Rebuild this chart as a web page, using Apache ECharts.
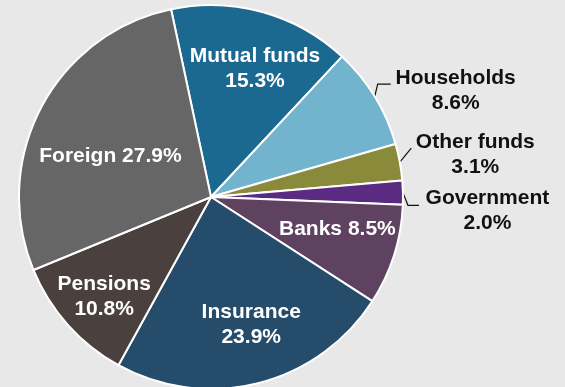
<!DOCTYPE html>
<html><head><meta charset="utf-8">
<script src="https://cdn.jsdelivr.net/npm/echarts@6/dist/echarts.min.js"></script>
<style>html,body{margin:0;padding:0;background:#e8e8e8;} #c{width:565px;height:387px;}</style>
</head><body><div id="c"></div>
<script>
const categories = ['Mutual funds','Households','Other funds','Government','Banks','Insurance','Pensions','Foreign'];
const shares = [15.3, 8.6, 3.1, 2.0, 8.5, 23.9, 10.8, 27.9];
const colors = ['#1b6891','#72b3cd','#8a8a3b','#5b2b84','#5f4260','#254c6a','#4a403e','#666666'];
const outsideLabel = [false,true,true,true,false,false,false,false];
const singleLine = [false,false,false,false,true,false,false,true];
// label placement (style only): shift of text centre from default anchor, leader line bends
const labelShift = [[17.5,-32.5],[81,-5.5],[75.5,-7],[84.5,18.5],[32,2],[16,32],[-33,33.5],[-13,5]];
const leaderBends = [null, [[3,-12.5],[16,-12.5]], [[11.5,-14]], [[5,12.7],[16,12.7]], null, null, null, null];

const font = {fontFamily:'"Liberation Sans", Arial, sans-serif', fontWeight:'bold', fontSize:21, lineHeight:25};

const data = categories.map((name, i) => ({
  name: name,
  value: shares[i],
  itemStyle: {color: colors[i]},
  label: outsideLabel[i]
    ? Object.assign({show:true, position:'outside', color:'#111', align:'center'}, font)
    : Object.assign({show:true, position:'inside', color:'#fff', align:'center'}, font),
  labelLine: outsideLabel[i]
    ? {show:true, length:8, length2:8, lineStyle:{color:'#111', width:1.2}}
    : {show:false}
}));

const chart = echarts.init(document.getElementById('c'), null, {renderer:'canvas'});
chart.setOption({
  backgroundColor:'#e8e8e8',
  animation:false,
  series:[{
    type:'pie',
    center:[211,197],
    radius:[0,192],
    startAngle:102,
    clockwise:true,
    avoidLabelOverlap:false,
    itemStyle:{borderColor:'#ffffff', borderWidth:2},
    emphasis:{disabled:true},
    label:{
      formatter: p => singleLine[p.dataIndex]
        ? p.name + ' ' + p.value.toFixed(1) + '%'
        : p.name + '\n' + p.value.toFixed(1) + '%'
    },
    labelLayout: function(p){
      const i = p.dataIndex, s = labelShift[i];
      if (outsideLabel[i] && p.labelLinePoints) {
        const a = p.labelLinePoints[0];
        const pts = [[a[0], a[1]]].concat(leaderBends[i].map(d => [a[0]+d[0], a[1]+d[1]]));
        return {x:a[0]+s[0], y:a[1]+s[1], align:'center', verticalAlign:'middle', labelLinePoints:pts};
      }
      const r = p.labelRect;
      return {x:r.x + r.width/2 + s[0], y:r.y + r.height/2 + s[1], align:'center', verticalAlign:'middle'};
    },
    data:data
  }]
});
</script>
</body></html>
